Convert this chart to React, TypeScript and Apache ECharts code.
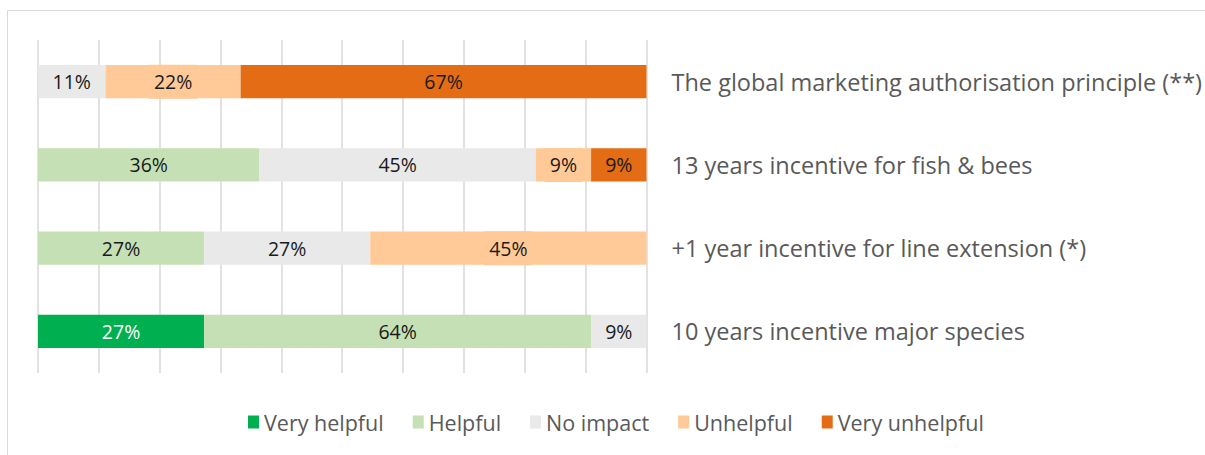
import React, { useEffect, useRef } from "react";
import * as echarts from "echarts";

const categories = [
  "The global marketing authorisation principle (**)",
  "13 years incentive for fish & bees",
  "+1 year incentive for line extension (*)",
  "10 years incentive major species",
];
const seriesNames = ["Very helpful", "Helpful", "No impact", "Unhelpful", "Very unhelpful"];
const veryHelpful = [0, 0, 0, 27.3];
const helpful = [0, 36.4, 27.3, 63.6];
const noImpact = [11.1, 45.4, 27.3, 9.1];
const unhelpful = [22.2, 9.1, 45.4, 0];
const veryUnhelpful = [66.7, 9.1, 0, 0];
const xTicks = [0, 10, 20, 30, 40, 50, 60, 70, 80, 90, 100];

const colors = ["#00B050", "#C5E0B4", "#E9E9E9", "#FFCA97", "#E46C14"];
const FONT = "'Open Sans', 'Noto Sans', sans-serif";

export default function App() {
  const ref = useRef<HTMLDivElement>(null);
  useEffect(() => {
    if (!ref.current) return;
    const chart = echarts.init(ref.current, undefined, { renderer: "svg" });
    const values = [veryHelpful, helpful, noImpact, unhelpful, veryUnhelpful];
    const series = values.map((data, i) => ({
      name: seriesNames[i],
      type: "bar",
      stack: "total",
      barWidth: "40%",
      data: data.map((v) => (v ? v : { value: 0, label: { show: false } })),
      itemStyle: { color: colors[i] },
      label: {
        show: true,
        position: "inside",
        fontFamily: FONT,
        fontSize: 19.5,
        color: i === 0 ? "#FFFFFF" : "#1A1A1A",
        formatter: (p: any) => Math.round(p.value) + "%",
        ...(i === 3 ? { backgroundColor: colors[3], padding: [7, 5] } : {}),
      },
    }));
    chart.setOption({
      animation: false,
      textStyle: { fontFamily: FONT },
      graphic: [
        {
          type: "rect",
          shape: { x: 7.5, y: 10.5, width: 1400, height: 600 },
          style: { fill: "none", stroke: "#D9D9D9", lineWidth: 1 },
          silent: true,
        },
      ],
      grid: { left: 38, right: 557, top: 40, bottom: 82, containLabel: false },
      legend: {
        left: 248,
        top: 411,
        padding: 0,
        itemWidth: 11,
        itemHeight: 13,
        itemGap: 29,
        icon: "rect",
        textStyle: { color: "#595959", fontSize: 21.5, fontFamily: FONT },
        data: seriesNames,
      },
      xAxis: {
        type: "value",
        min: xTicks[0],
        max: xTicks[xTicks.length - 1],
        interval: 10,
        axisLabel: { show: false },
        axisLine: { show: false },
        axisTick: { show: false },
        splitLine: { show: true, lineStyle: { color: "#D9D9D9", width: 1.5 } },
      },
      yAxis: {
        type: "category",
        data: categories,
        inverse: true,
        position: "right",
        axisLine: { show: false },
        axisTick: { show: false },
        axisLabel: { margin: 25, color: "#595959", fontSize: 23.5, fontFamily: FONT },
      },
      series,
    });
    return () => chart.dispose();
  }, []);
  return (
    <div
      ref={ref}
      style={{ position: "fixed", left: 0, top: 0, width: 1205, height: 455, background: "#fff" }}
    />
  );
}
